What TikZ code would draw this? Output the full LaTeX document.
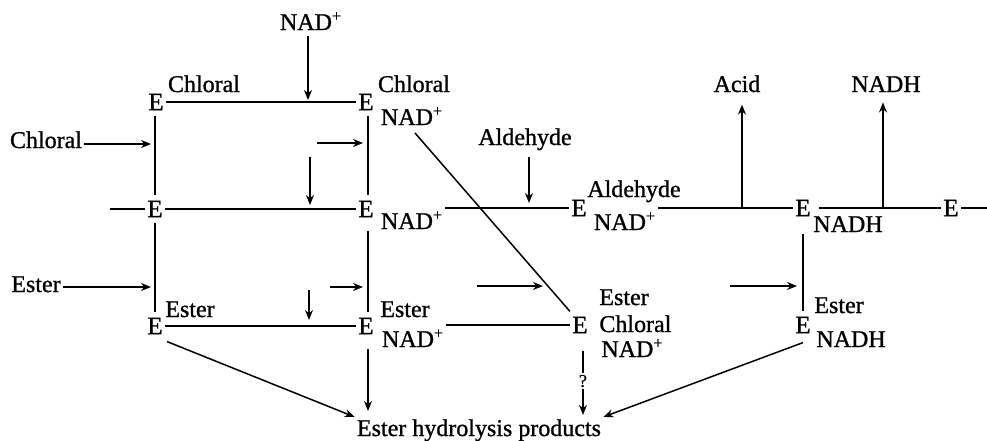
\documentclass[tikz,border=0pt]{standalone}
\usepackage{fontspec}
\setmainfont{Liberation Serif}[FakeBold=1.0]
\usetikzlibrary{arrows.meta}
\begin{document}
\begin{tikzpicture}[x=0.5pt,y=-0.5pt,
  every node/.style={font=\fontsize{12pt}{14pt}\selectfont},
  enz/.style={inner xsep=1pt,inner ysep=2.5pt,anchor=center,font=\fontsize{12.5pt}{14pt}\selectfont},
  lab/.style={inner sep=1pt,anchor=base},
  labw/.style={inner sep=1pt,anchor=base west},
  ln/.style={line width=0.75pt},
  arr/.style={line width=0.75pt,-{Stealth[length=5pt,width=4pt]}}]
\useasboundingbox (0,0) rectangle (987,440);
% enzyme forms
\node[enz] (e1) at (156,102) {E};
\node[enz] (e2) at (366,102) {E};
\node[enz] (e3) at (155,209) {E};
\node[enz] (e4) at (366,209) {E};
\node[enz] (e5) at (579,208) {E};
\node[enz] (e6) at (803,208) {E};
\node[enz] (e7) at (951,208) {E};
\node[enz] (e8) at (155,326) {E};
\node[enz] (e9) at (366,326) {E};
\node[enz] (e10) at (580,325) {E};
\node[enz] (e11) at (803,325) {E};
% labels
\node[lab] (nadtop) at (311,30) {NAD\textsuperscript{+}};
\node[lab] (l1) at (204,92) {Chloral};
\node[lab] (l2a) at (414,92) {Chloral};
\node[lab] (l2b) at (412,125) {NAD\textsuperscript{+}};
\node[lab] (chl) at (46,148) {Chloral};
\node[lab] (l4) at (412,229) {NAD\textsuperscript{+}};
\node[lab] (ald) at (525,145) {Aldehyde};
\node[lab] (l5a) at (634,197) {Aldehyde};
\node[lab] (l5b) at (625,230) {NAD\textsuperscript{+}};
\node[lab] (acid) at (737,92) {Acid};
\node[lab] (nadhtop) at (886,92) {NADH};
\node[lab] (l6) at (848,232) {NADH};
\node[lab] (est) at (36,292) {Ester};
\node[lab] (l8) at (190,317) {Ester};
\node[lab] (l9a) at (405,317) {Ester};
\node[lab] (l9b) at (413,347) {NAD\textsuperscript{+}};
\node[labw] (l10a) at (597,305) {Ester};
\node[labw] (l10b) at (597,332) {Chloral};
\node[labw] (l10c) at (599,357) {NAD\textsuperscript{+}};
\node[labw] (l11a) at (812,313) {Ester};
\node[labw] (l11b) at (814,347) {NADH};
\node[lab] (prod) at (479,436) {Ester hydrolysis products};
\node[inner sep=1pt,font=\fontsize{9pt}{10pt}\selectfont] (q) at (583,381) {?};
% free ends
\coordinate (t1) at (308,100);
\coordinate (c1) at (151,144);
\coordinate (s1a) at (317,143); \coordinate (s1b) at (363,143);
\coordinate (s2a) at (310,157); \coordinate (s2b) at (310,205);
\coordinate (a1) at (529,203);
\coordinate (acidfoot) at (742,208);
\coordinate (nadhfoot) at (883,208);
\coordinate (c2) at (151,287);
\coordinate (s3a) at (330,287); \coordinate (s3b) at (363,287);
\coordinate (s4a) at (309,290); \coordinate (s4b) at (309,320);
\coordinate (s5a) at (477,286); \coordinate (s5b) at (543,286);
\coordinate (s6a) at (730,286); \coordinate (s6b) at (797,286);
\coordinate (lft) at (110,209);
\coordinate (rgt) at (987,208);
\coordinate (d1) at (415,133);
% horizontal lines
\draw[ln] (e1.east) -- (e2.west);
\draw[ln] (lft) -- (e3.west);
\draw[ln] (e3.east) -- (e4.west);
\draw[ln] (e5.west -| l4.east) -- (e5.west);
\draw[ln] (e5.east -| l5b.east) -- (e6.west);
\draw[ln] ([xshift=3pt]e6.east) -- (e7.west);
\draw[ln] (e7.east) -- (rgt);
\draw[ln] (e8.east) -- (e9.west);
\draw[ln] (e10.west -| l9b.east) -- (e10.west);
% vertical lines
\draw[ln] (e3 |- e1.south) -- (e3.north);
\draw[ln] (e3.south) -- (e8.north);
\draw[ln] ([xshift=1pt]e2.south) -- ([xshift=1pt]e4.north);
\draw[ln] ([xshift=1pt]e4 |- l4.south) -- ([xshift=1pt]e9.north);
\draw[ln] (e6 |- l6.south) -- (e11.north);
% diagonal
\draw[ln] (d1) -- (e10.north west);
% arrows
\draw[arr,shorten <=2pt] (nadtop.south -| t1) -- (t1);
\draw[arr] (chl.east |- c1) -- (c1);
\draw[arr] (s1a) -- (s1b);
\draw[arr] (s2a) -- (s2b);
\draw[arr,shorten <=2pt] (ald.south -| a1) -- (a1);
\draw[arr,shorten >=5pt] (acidfoot) -- (acidfoot |- acid.south);
\draw[arr,shorten >=4pt] (nadhfoot) -- (nadhfoot |- nadhtop.south);
\draw[arr] (est.east |- c2) -- (c2);
\draw[arr] (s3a) -- (s3b);
\draw[arr] (s4a) -- (s4b);
\draw[arr] (s5a) -- (s5b);
\draw[arr] (s6a) -- (s6b);
% to products
\draw[arr] ([xshift=1pt,yshift=-1pt]e8.south east) -- (prod.north west);
\draw[arr,shorten >=3pt] ([xshift=1pt]e9 |- l9b.south) -- ([xshift=1pt]e9 |- prod.north);
\draw[ln,shorten <=6pt] (q |- e10.south) -- (q.north);
\draw[arr,shorten >=1pt] (q.south) -- (q |- prod.north);
\draw[arr] ([yshift=-2pt]e11.south) -- (prod.north east);
\end{tikzpicture}
\end{document}
